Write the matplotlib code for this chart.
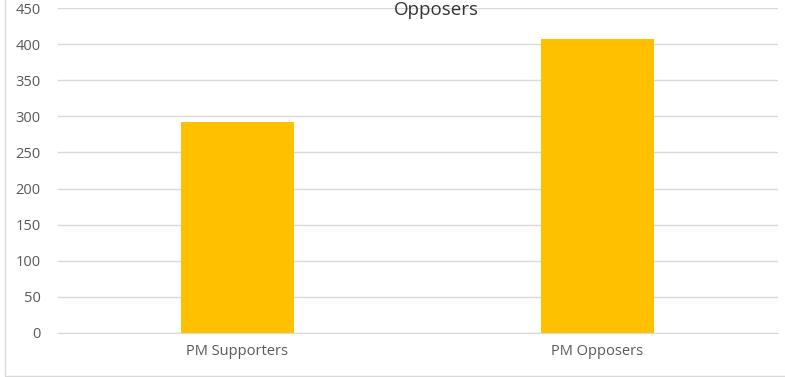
import matplotlib.pyplot as plt
from matplotlib.patches import Rectangle

categories = ["PM Supporters", "PM Opposers"]
counts = [292, 407]
y_ticks = list(range(0, 451, 50))

W, H = 785, 377
fig = plt.figure(figsize=(W / 100, H / 100), dpi=100)

# plot area in pixel coordinates
left, right, top, bottom = 57.5, 777.5, 8, 333
ax = fig.add_axes([left / W, (H - bottom) / H, (right - left) / W, (bottom - top) / H])

ax.bar(range(len(categories)), counts, width=0.315, color="#FFC000", zorder=3)
ax.set_xlim(-0.5, len(categories) - 0.5)
ax.set_ylim(0, 450)
ax.set_yticks(y_ticks)
ax.set_xticks(range(len(categories)))
ax.set_xticklabels(categories)

ax.grid(axis="y", color="#D9D9D9", linewidth=1.0, zorder=0)
for side in ("top", "right", "left"):
    ax.spines[side].set_visible(False)
ax.spines["bottom"].set_color("#D9D9D9")
ax.tick_params(axis="both", length=0, colors="#595959", labelsize=10.5)
ax.tick_params(axis="y", pad=12)
ax.tick_params(axis="x", pad=8)
for lbl in ax.get_xticklabels() + ax.get_yticklabels():
    lbl.set_fontfamily("Open Sans")

fig.text(436 / W, 1 - 10 / H, "Opposers", ha="center", va="center",
         fontsize=13.5, color="#333333", family="Open Sans")

# chart frame (top and right edges fall outside the image)
fig.patches.append(Rectangle((4.5 / W, 1 - 375.5 / H), 1.0, 1.0,
                             transform=fig.transFigure, fill=False,
                             edgecolor="#D9D9D9", linewidth=1.0))

fig.savefig("out.png", dpi=100)
